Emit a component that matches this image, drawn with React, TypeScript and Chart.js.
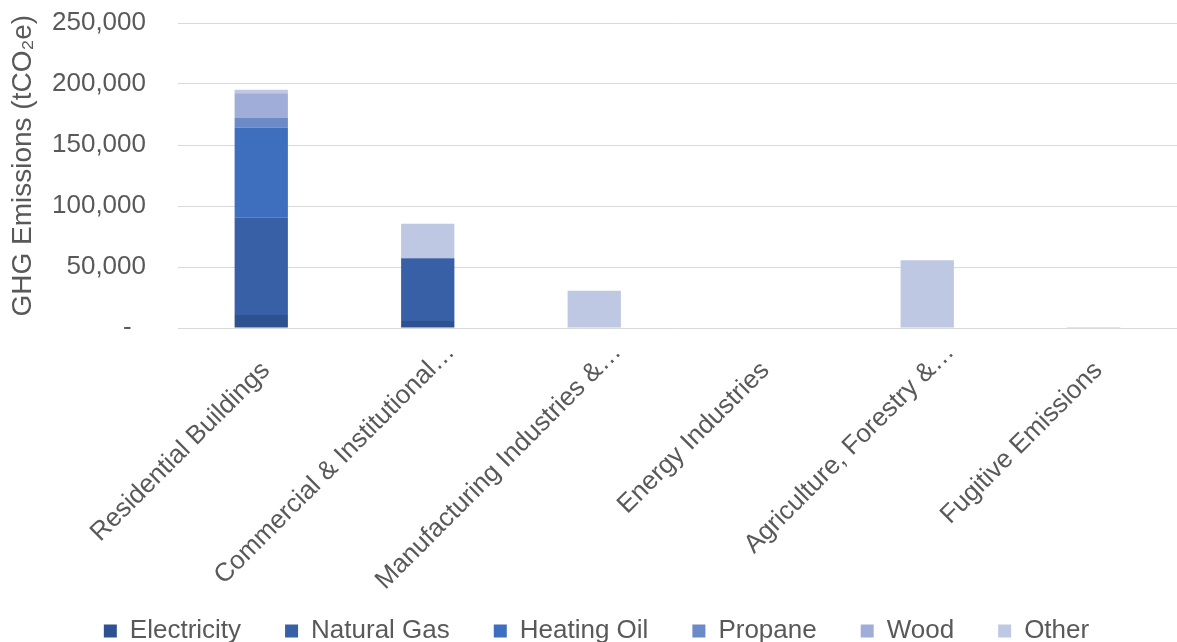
import React, { useEffect, useRef } from 'react';
import { Chart, registerables } from 'chart.js';

Chart.register(...registerables);

// Labels as shown on the axis; the full (untruncated) ones carry a trailing em space
// so their visible end sits where the reference places it.
const categories = [
  'Residential Buildings\u2003',
  'Commercial & Institutional…',
  'Manufacturing Industries &…',
  'Energy Industries\u2003',
  'Agriculture, Forestry &…',
  'Fugitive Emissions\u2003',
];

const electricity = [10700, 5800, 0, 0, 0, 0];
const naturalGas = [79600, 51300, 0, 0, 0, 0];
const heatingOil = [74000, 0, 0, 0, 0, 0];
const propane = [8200, 0, 0, 0, 0, 0];
const wood = [20000, 0, 0, 0, 0, 0];
const other = [2800, 28300, 30500, 0, 55500, 800];

const seriesNames = ['Electricity', 'Natural Gas', 'Heating Oil', 'Propane', 'Wood', 'Other'];
const seriesValues = [electricity, naturalGas, heatingOil, propane, wood, other];
const seriesColors = ['#2E5290', '#3860A7', '#3E6EBE', '#6C89C8', '#9FADD8', '#BEC8E3'];

const yMin = 0;
const yMax = 250000;
const yStep = 50000;
const yTitle = '\u2002\u2009GHG Emissions (tCO₂e)';

export default function App() {
  const ref = useRef<HTMLCanvasElement>(null);

  useEffect(() => {
    document.body.style.margin = '0';
    document.body.style.overflow = 'hidden';
    const family = "'Liberation Sans', Arial, sans-serif";
    const color = '#595959';
    const font = { family, size: 26 };

    const layoutTweaks = {
      id: 'layoutTweaks',
      afterInit(chart: any) {
        const lg = chart.legend;
        if (!lg) return;
        const orig = lg.fit;
        lg.fit = function () {
          orig.call(this);
          this.height = 68;
        };
      },
      afterLayout(chart: any) {
        const x = chart.scales.x;
        if (x) x.bottom = chart.height;
        if (chart.legend) chart.legend.left += 12;
      },
    };

    const chart = new Chart(ref.current as HTMLCanvasElement, {
      type: 'bar',
      data: {
        labels: categories,
        datasets: seriesNames.map((name, i) => ({
          label: name,
          data: seriesValues[i],
          backgroundColor: seriesColors[i],
          borderWidth: 0,
          barPercentage: 0.32,
          categoryPercentage: 1,
        })),
      },
      options: {
        animation: false,
        responsive: false,
        maintainAspectRatio: false,
        layout: { padding: { top: 23, left: 4, right: 0, bottom: 0 } },
        plugins: {
          legend: {
            position: 'bottom',
            labels: {
              boxWidth: 13,
              boxHeight: 13,
              padding: 44,
              color,
              font,
            },
          },
          tooltip: { enabled: false },
        },
        scales: {
          x: {
            stacked: true,
            grid: { display: false, drawTicks: false },
            border: { display: false },
            ticks: {
              minRotation: 45,
              maxRotation: 45,
              autoSkip: false,
              padding: 9,
              labelOffset: 23,
              color,
              font,
            },
            afterFit: (s: any) => {
              s.height = 246;
            },
          },
          y: {
            stacked: true,
            min: yMin,
            max: yMax,
            ticks: {
              stepSize: yStep,
              padding: 32,
              color,
              font,
              callback: (v: any) => (Number(v) === 0 ? '-  ' : Number(v).toLocaleString('en-US')),
            },
            grid: { color: '#D9D9D9', lineWidth: 1, drawTicks: false },
            border: { display: false },
            title: {
              display: true,
              text: yTitle,
              color,
              font: { family, size: 28 },
              padding: { top: 2, bottom: 0 },
            },
            afterFit: (s: any) => {
              s.width = 174;
              s.paddingTop = 0;
              s.paddingBottom = 0;
            },
          },
        },
      },
      plugins: [layoutTweaks],
    } as any);

    return () => chart.destroy();
  }, []);

  return <canvas ref={ref} width={1177} height={642} style={{ display: 'block' }} />;
}
